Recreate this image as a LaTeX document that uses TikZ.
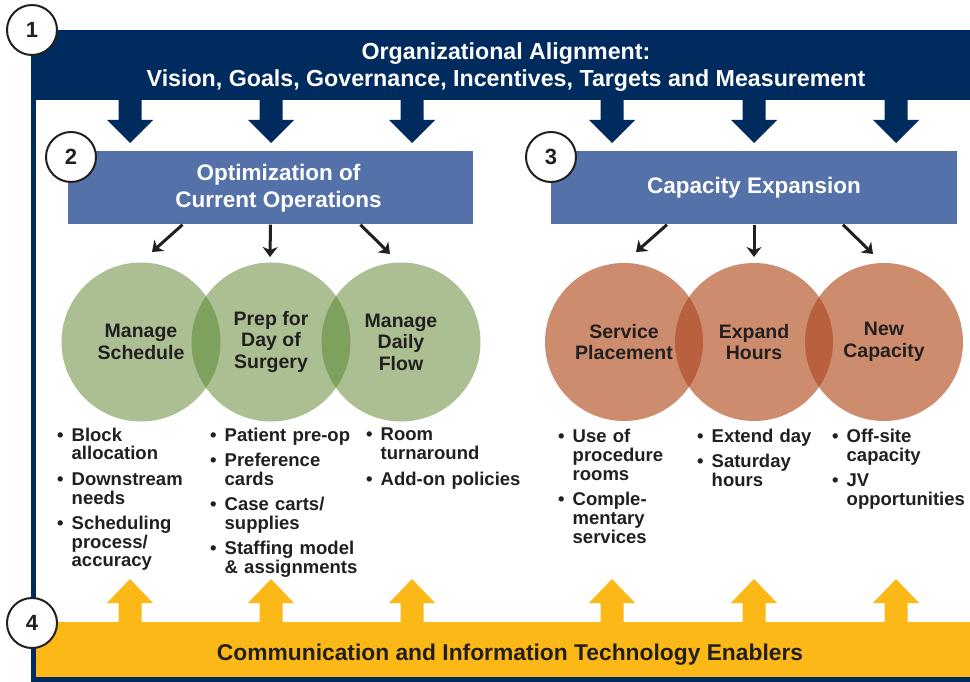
\documentclass[tikz,border=0pt]{standalone}
\usepackage{fontspec}
\setmainfont{Liberation Sans}
\usetikzlibrary{arrows.meta,positioning}

\definecolor{navy}{HTML}{002B5E}
\definecolor{boxblue}{HTML}{5571A9}
\definecolor{gold}{HTML}{FBB817}
\definecolor{ink}{HTML}{231F20}
\definecolor{sage}{HTML}{ABBF93}
\definecolor{sagedark}{HTML}{7EA25E}
\definecolor{clay}{HTML}{CE8C6E}
\definecolor{claydark}{HTML}{B9603E}

\newcommand{\firstpt}{\noindent\hangindent=14.5pt\hangafter=1\makebox[14.5pt][l]{\textbullet}}
\newcommand{\nextpt}{\par\vspace{6.5pt}\firstpt}
\newcommand{\closept}{\par}
\newcommand{\nl}{\newline}

\begin{document}
\begin{tikzpicture}[x=1pt,y=-1pt,
  num/.style={circle,draw=ink,line width=2pt,fill=white,minimum size=50pt,inner sep=0pt,font=\bfseries\fontsize{22}{22}\selectfont,text=ink},
  bluebox/.style={fill=boxblue,minimum width=405pt,minimum height=73pt,inner sep=0pt,align=center,text=white,font=\bfseries\fontsize{22.5}{27}\selectfont},
  green/.style={circle,fill=sage,minimum size=159pt,inner sep=0pt},
  orange/.style={circle,fill=clay,minimum size=158pt,inner sep=0pt},
  venntext/.style={align=center,text=ink,font=\bfseries\fontsize{19.5}{21.5}\selectfont},
  bullets/.style={anchor=north west,inner sep=0pt,text width=165pt,align=left,text=ink,font=\bfseries\fontsize{18.5}{18.8}\selectfont},
  pointer/.style={line width=3pt,draw=ink,-{Stealth[length=10pt,width=15pt,inset=3pt]}}]
\useasboundingbox (0,0) rectangle (970,682);

% frame and bands
\fill[navy] (31,30) rectangle (970,682);
\fill[white] (36,100) rectangle (970,677);
\fill[gold] (36,622) rectangle (970,677);
\node[anchor=north,align=center,text=white,font=\bfseries\fontsize{23.2}{27}\selectfont] (align) at (506,39)
  {Organizational Alignment:\\Vision, Goals, Governance, Incentives, Targets and Measurement};
\node[anchor=base,text=ink,font=\bfseries\fontsize{22.8}{22.8}\selectfont] (enable) at (510,660)
  {Communication and Information Technology Enablers};

% block arrows
\foreach \x in {130,271,412,612,754,896} {
  \fill[navy] (\x-11.5,99) -- (\x-11.5,120) -- (\x-23,120) -- (\x,143) -- (\x+23,120) -- (\x+11.5,120) -- (\x+11.5,99) -- cycle;
  \fill[gold] (\x-11.5,623) -- (\x-11.5,603) -- (\x-23,603) -- (\x,579) -- (\x+23,603) -- (\x+11.5,603) -- (\x+11.5,623) -- cycle;
}

% boxes
\node[bluebox] (opt) at (270.5,188) {\hspace{16pt}Optimization of\\\hspace{16pt}Current Operations};
\node[bluebox,minimum width=406pt] (cap) at (754,188) {Capacity Expansion};

\coordinate (o1) at (152,252);
\coordinate (o2) at (270,257);
\coordinate (o3) at (390,254);
\coordinate (c1) at (636,252);
\coordinate (c2) at (754,257);
\coordinate (c3) at (873,254);
\draw[pointer] ([xshift=-88pt]opt.south) -- (o1);
\draw[pointer] (opt.south) -- (o2);
\draw[pointer] ([xshift=90pt]opt.south) -- (o3);
\draw[pointer] ([xshift=-87pt]cap.south) -- (c1);
\draw[pointer] (cap.south) -- (c2);
\draw[pointer] ([xshift=89pt]cap.south) -- (c3);

% circles
\node[green] (sched) at (141,342) {};
\node[green] (prep) at (271,342) {};
\node[green] (flow) at (401,342) {};
\node[orange] (serv) at (624,342) {};
\node[orange] (hours) at (754,342) {};
\node[orange] (new) at (884,342) {};
\begin{scope}
  \clip (sched.center) circle[radius=79.5pt];
  \fill[sagedark] (prep.center) circle[radius=79.5pt];
\end{scope}
\begin{scope}
  \clip (prep.center) circle[radius=79.5pt];
  \fill[sagedark] (flow.center) circle[radius=79.5pt];
\end{scope}
\begin{scope}
  \clip (serv.center) circle[radius=79pt];
  \fill[claydark] (hours.center) circle[radius=79pt];
\end{scope}
\begin{scope}
  \clip (hours.center) circle[radius=79pt];
  \fill[claydark] (new.center) circle[radius=79pt];
\end{scope}
\node[venntext] (sched-t) at (sched) {Manage\\Schedule};
\node[venntext] (prep-t) at (prep) {Prep for\\Day of\\Surgery};
\node[venntext] (flow-t) at (flow) {Manage\\Daily\\Flow};
\node[venntext] (serv-t) at (serv) {Service\\Placement};
\node[venntext] (hours-t) at (hours) {Expand\\Hours};
\node[venntext] (new-t) at (new) {New\\Capacity};

% bullet lists
\node[bullets] (l1) at (57,427.5) {\firstpt Block\nl allocation\nextpt Downstream\nl needs\nextpt Scheduling\nl process/\nl accuracy\closept};
\node[bullets] (l2) at (210,427.5) {\firstpt Patient pre-op\nextpt Preference\nl cards\nextpt Case carts/\nl supplies\nextpt Staffing model\nl \& assignments\closept};
\node[bullets] (l3) at (366,428) {\firstpt Room\nl turnaround\nextpt Add-on policies\closept};
\node[bullets] (l4) at (558,429) {\firstpt Use of\nl procedure\nl rooms\nextpt Comple-\nl mentary\nl services\closept};
\node[bullets] (l5) at (697,429) {\firstpt Extend day\nextpt Saturday\nl hours\closept};
\node[bullets] (l6) at (832,429) {\firstpt Off-site\nl capacity\nextpt JV\nl opportunities\closept};

% numbers
\node[num] (n1) at (32,30) {1};
\node[num] (n2) at (71,157) {2};
\node[num] (n3) at (551,157) {3};
\node[num] (n4) at (32,623) {4};
\end{tikzpicture}
\end{document}
